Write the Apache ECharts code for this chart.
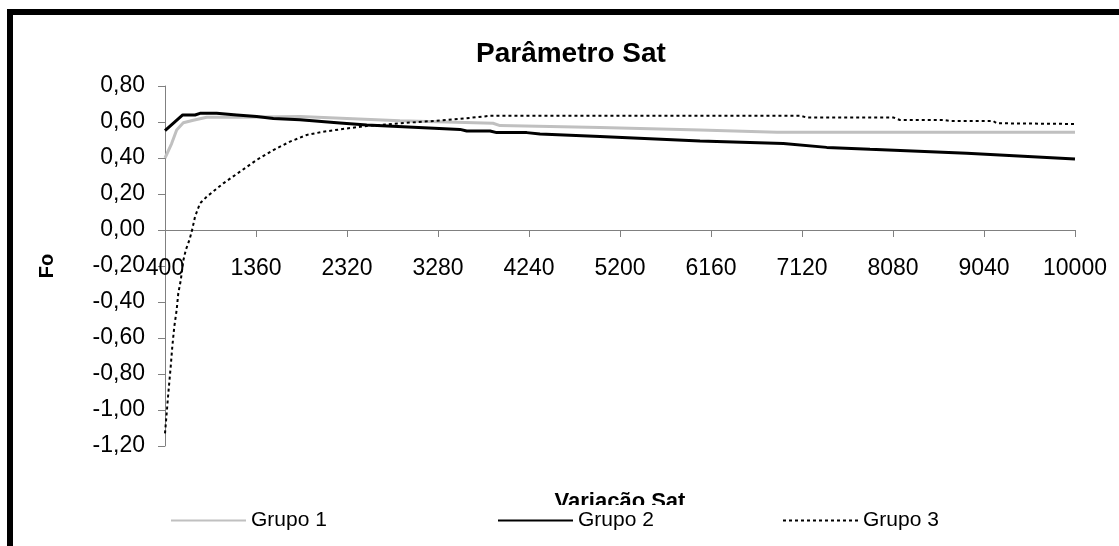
<!DOCTYPE html>
<html>
<head>
<meta charset="utf-8">
<script src="https://cdn.jsdelivr.net/npm/echarts@6/dist/echarts.min.js"></script>
<style>
html,body{margin:0;padding:0;background:#fff;}
#chart{width:1119px;height:546px;}
</style>
</head>
<body>
<div id="chart"></div>
<script>
// ---- data ----
const xTicks = [400, 1360, 2320, 3280, 4240, 5200, 6160, 7120, 8080, 9040, 10000];
const seriesNames = ['Grupo 1', 'Grupo 2', 'Grupo 3'];

const grupo1 = [
  [400,0.40],[470,0.48],[523,0.556],[593,0.596],[699,0.61],[840,0.626],[1200,0.627],
  [1824,0.63],[2879,0.607],[3860,0.593],[3934,0.58],[4989,0.57],[6044,0.556],
  [6857,0.543],[10000,0.543]
];

const grupo2 = [
  [400,0.552],[587,0.639],[717,0.639],[769,0.648],[945,0.648],[1156,0.639],[1367,0.63],
  [1543,0.62],[1824,0.613],[2246,0.595],[2528,0.583],[3512,0.559],[3583,0.55],[3829,0.55],
  [3899,0.541],[4216,0.541],[4356,0.533],[4989,0.519],[6044,0.494],[6923,0.481],
  [7381,0.459],[7838,0.448],[8858,0.426],[10000,0.394]
];

const grupo3 = [
  [400,-1.13],[435,-0.907],[460,-0.76],[477,-0.648],[498,-0.537],[523,-0.444],[540,-0.352],
  [566,-0.28],[593,-0.17],[620,-0.11],[657,-0.056],[682,-0.009],[717,0.074],[769,0.148],
  [840,0.185],[1015,0.259],[1191,0.324],[1367,0.389],[1543,0.444],[1719,0.491],[1895,0.528],
  [2070,0.546],[2246,0.559],[2528,0.578],[2879,0.593],[3372,0.611],[3758,0.63],[3829,0.635],
  [7099,0.635],[7170,0.625],[8084,0.625],[8154,0.611],[8611,0.611],[8682,0.606],[9136,0.606],
  [9174,0.593],[10000,0.589]
];

const yMin = -1.2, yMax = 0.8, yStep = 0.2;

// ---- chart ----
const chart = echarts.init(document.getElementById('chart'));
const fontFam = 'Liberation Sans, Arial, sans-serif';
const axisGrey = '#808080';
const gridTop = 86, gridBottom = 100, chartH = 546;
const gridH = chartH - gridTop - gridBottom;
// x axis sits at y = 0: shift it up from the grid bottom
const xAxisOffset = -gridH * (0 - yMin) / (yMax - yMin);

function legendAt(name, left) {
  return {
    data: [name], left: left, top: 510, z: 20,
    itemWidth: 75, itemHeight: 14, itemGap: 5, padding: 0,
    itemStyle: { opacity: 0, borderWidth: 0 },
    textStyle: { fontFamily: fontFam, fontSize: 21, color: '#000', padding: [0,0,0,0] }
  };
}

chart.setOption({
  animation: false,
  backgroundColor: '#fff',
  title: {
    text: 'Parâmetro Sat', left: 471, top: 35,
    textStyle: { fontFamily: fontFam, fontSize: 28, fontWeight: 'bold', color: '#000' }
  },
  grid: { left: 165, right: 44, top: gridTop, bottom: gridBottom, containLabel: false, outerBoundsMode: 'none' },
  legend: [
    legendAt(seriesNames[0], 170),
    legendAt(seriesNames[1], 497),
    legendAt(seriesNames[2], 782)
  ],
  xAxis: {
    type: 'value', min: 400, max: 10000, position: 'bottom', offset: xAxisOffset,
    name: 'Variação Sat', nameLocation: 'middle', nameGap: 261,
    nameTextStyle: { fontFamily: fontFam, fontSize: 22, fontWeight: 'bold', color: '#000' },
    axisLine: { onZero: false, lineStyle: { color: axisGrey, width: 1 } },
    axisTick: { show: true, length: 7, lineStyle: { color: axisGrey }, customValues: xTicks },
    axisLabel: { customValues: xTicks, margin: 27, fontFamily: fontFam, fontSize: 23, color: '#000',
                 formatter: v => String(v) },
    splitLine: { show: false }
  },
  yAxis: {
    type: 'value', min: yMin, max: yMax, interval: yStep,
    name: 'Fo', nameLocation: 'middle', nameRotate: 90, nameGap: 108,
    nameTextStyle: { fontFamily: fontFam, fontSize: 20, fontWeight: 'bold', color: '#000' },
    axisLine: { show: true, onZero: false, lineStyle: { color: axisGrey, width: 1 } },
    axisTick: { show: true, length: 7, lineStyle: { color: axisGrey } },
    axisLabel: { margin: 20, fontFamily: fontFam, fontSize: 23, color: '#000',
                 formatter: v => v.toFixed(2).replace('.', ',') },
    splitLine: { show: false }
  },
  graphic: [
    { type: 'rect', z: 10, silent: true,
      shape: { x: 100, y: 505, width: 1000, height: 35 },
      style: { fill: '#fff', stroke: null } },
    { type: 'rect', z: 30, silent: true,
      shape: { x: 10, y: 12, width: 1300, height: 700 },
      style: { fill: null, stroke: '#000', lineWidth: 6 } }
  ],
  series: [
    { name: seriesNames[0], type: 'line', data: grupo1, symbol: 'none', z: 3,
      lineStyle: { color: '#c0c0c0', width: 3 }, itemStyle: { color: '#c0c0c0' } },
    { name: seriesNames[1], type: 'line', data: grupo2, symbol: 'none', z: 4,
      lineStyle: { color: '#000', width: 3 }, itemStyle: { color: '#000' } },
    { name: seriesNames[2], type: 'line', data: grupo3, symbol: 'none', z: 5,
      lineStyle: { color: '#000', width: 2, type: [3, 3] }, itemStyle: { color: '#000' } }
  ]
});
</script>
</body>
</html>
